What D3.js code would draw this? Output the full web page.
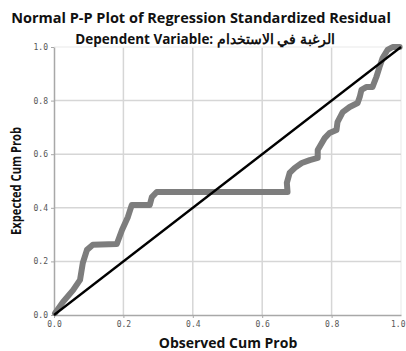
<!DOCTYPE html>
<html>
<head>
<meta charset="utf-8">
<script src="https://cdn.jsdelivr.net/npm/d3@7"></script>
<style>
  body { margin: 0; background: #fff; }
  svg { display: block; }
  .tick text { font-family: "DejaVu Sans Mono", monospace; font-size: 8px; fill: #555; }
</style>
</head>
<body>
<div id="chart"></div>
<script>
// observed vs expected cumulative probability
const observed = [0.003, 0.026, 0.055, 0.075, 0.083, 0.095, 0.112, 0.181, 0.196, 0.213, 0.224, 0.276,
  0.282, 0.296, 0.673, 0.671, 0.679, 0.694, 0.714, 0.737, 0.760, 0.760, 0.780, 0.794, 0.814, 0.817,
  0.832, 0.852, 0.875, 0.881, 0.886, 0.901, 0.918, 0.929, 0.938, 0.947, 0.961, 0.976, 0.996];
const expected = [0.007, 0.049, 0.093, 0.131, 0.194, 0.243, 0.262, 0.265, 0.317, 0.366, 0.41, 0.41,
  0.44, 0.459, 0.459, 0.493, 0.530, 0.549, 0.567, 0.578, 0.586, 0.616, 0.660, 0.679, 0.690, 0.720,
  0.757, 0.776, 0.791, 0.813, 0.840, 0.851, 0.851, 0.888, 0.925, 0.959, 0.989, 1.0, 1.0];
const tickValues = [0, 0.2, 0.4, 0.6, 0.8, 1.0];
const title = "Normal P-P Plot of Regression Standardized Residual";
const subtitle = "Dependent Variable: الرغبة في الاستخدام";
const xTitle = "Observed Cum Prob";
const yTitle = "Expected Cum Prob";

const w = 406, h = 351;
const margin = { top: 47, right: 5, bottom: 36, left: 54 };

const svg = d3.select("#chart").append("svg")
  .attr("width", w)
  .attr("height", h);

const x = d3.scaleLinear().domain([0, 1]).range([margin.left, w - margin.right]);
const y = d3.scaleLinear().domain([0, 1]).range([h - margin.bottom, margin.top]);

// grid
svg.append("g").selectAll("line")
  .data(tickValues.slice(1))
  .join("line")
  .attr("x1", d => x(d)).attr("x2", d => x(d))
  .attr("y1", y(0)).attr("y2", y(1))
  .attr("stroke", d => d === 1 ? "#f0f0f0" : "#d6d6d6")
  .attr("stroke-width", 1.5);
svg.append("g").selectAll("line")
  .data(tickValues.slice(1))
  .join("line")
  .attr("y1", d => y(d)).attr("y2", d => y(d))
  .attr("x1", x(0)).attr("x2", x(1))
  .attr("stroke", d => d === 1 ? "#f0f0f0" : "#d6d6d6")
  .attr("stroke-width", 1.5);

// axes
const fmt = d3.format(".1f");
const xAxis = svg.append("g")
  .attr("transform", "translate(0," + y(0) + ")")
  .call(d3.axisBottom(x).tickValues(tickValues).tickFormat(fmt).tickSize(3).tickSizeOuter(0));
const yAxis = svg.append("g")
  .attr("transform", "translate(" + x(0) + ",0)")
  .call(d3.axisLeft(y).tickValues(tickValues).tickFormat(fmt).tickSize(3).tickSizeOuter(0));
[xAxis, yAxis].forEach(a => {
  a.select(".domain").attr("stroke", "#a8a8a8").attr("stroke-width", 1.5);
  a.selectAll(".tick line").attr("stroke", "#a8a8a8");
});
xAxis.selectAll(".tick").filter(d => d === 1).select("line").remove();
// last x label sits at the window edge, keep it inside
xAxis.selectAll(".tick").filter(d => d === 1).select("text").attr("text-anchor", "end").attr("x", 4);

// the dense run of points, drawn as a thick round line
const pts = observed.map((d, i) => [d, expected[i]]);
const line = d3.line().x(d => x(d[0])).y(d => y(d[1]));
svg.append("path")
  .datum(pts)
  .attr("d", line)
  .attr("fill", "none")
  .attr("stroke", "#7d7d7d")
  .attr("stroke-width", 6)
  .attr("stroke-linecap", "round")
  .attr("stroke-linejoin", "round");

// reference diagonal
svg.append("line")
  .attr("x1", x(0)).attr("y1", y(0))
  .attr("x2", x(1)).attr("y2", y(1))
  .attr("stroke", "#000")
  .attr("stroke-width", 2.3);

// titles
svg.append("text")
  .attr("x", 201).attr("y", 23)
  .attr("text-anchor", "middle")
  .attr("font-family", "'Open Sans', sans-serif")
  .attr("font-weight", "bold")
  .attr("font-size", 14.5)
  .attr("fill", "#111")
  .text(title);
svg.append("text")
  .attr("x", 205).attr("y", 44)
  .attr("text-anchor", "middle")
  .attr("font-family", "'Open Sans', 'Noto Sans', sans-serif")
  .attr("font-weight", "bold")
  .attr("font-size", 13.5)
  .attr("fill", "#111")
  .text(subtitle);
svg.append("text")
  .attr("x", 228).attr("y", 348)
  .attr("text-anchor", "middle")
  .attr("font-family", "'Open Sans', sans-serif")
  .attr("font-weight", "bold")
  .attr("font-size", 14)
  .attr("fill", "#111")
  .text(xTitle);
svg.append("text")
  .attr("transform", "translate(21,181) rotate(-90)")
  .attr("text-anchor", "middle")
  .attr("font-family", "'Open Sans', sans-serif")
  .attr("font-weight", "bold")
  .attr("font-size", 14.5)
  .attr("textLength", 108)
  .attr("lengthAdjust", "spacingAndGlyphs")
  .attr("fill", "#111")
  .text(yTitle);
</script>
</body>
</html>
